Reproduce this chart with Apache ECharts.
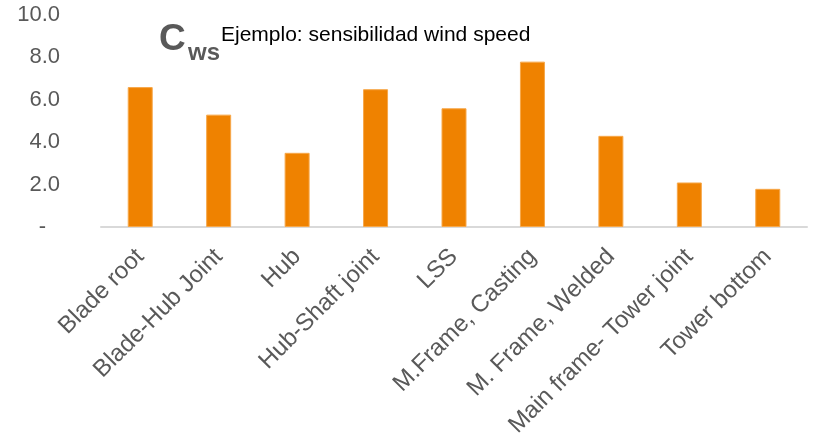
<!DOCTYPE html>
<html>
<head>
<meta charset="utf-8">
<script src="https://cdn.jsdelivr.net/npm/echarts@6/dist/echarts.min.js"></script>
<style>
  html, body { margin: 0; padding: 0; background: #fff; }
  #chart { width: 813px; height: 437px; }
</style>
</head>
<body>
<div id="chart"></div>
<script>
// Component categories and wind-speed sensitivity values
const categories = [
  'Blade root', 'Blade-Hub Joint', 'Hub', 'Hub-Shaft joint', 'LSS',
  'M.Frame, Casting', 'M. Frame, Welded', 'Main frame- Tower joint', 'Tower bottom'
];
const values = [6.6, 5.3, 3.5, 6.5, 5.6, 7.8, 4.3, 2.1, 1.8];
const yTicks = [0, 2, 4, 6, 8, 10];

const FONT = '"Liberation Sans", Arial, sans-serif';
const chart = echarts.init(document.getElementById('chart'));

chart.setOption({
  animation: false,
  title: [
    { text: 'C', left: 154, top: 16, textStyle: { fontFamily: FONT, fontSize: 37, fontWeight: 'bold', color: '#595959' } },
    { text: 'ws', left: 183, top: 36, textStyle: { fontFamily: FONT, fontSize: 24, fontWeight: 'bold', color: '#595959' } },
    { text: 'Ejemplo: sensibilidad wind speed', left: 216, top: 20, textStyle: { fontFamily: FONT, fontSize: 21, fontWeight: 'normal', color: '#000' } }
  ],
  grid: { left: 101, right: 6, top: 15, bottom: 210, containLabel: false, outerBoundsMode: 'none' },
  xAxis: {
    type: 'category',
    data: categories,
    axisLine: { lineStyle: { color: '#d9d9d9', width: 2 } },
    axisTick: { show: false },
    axisLabel: {
      rotate: 45, interval: 0, margin: 26,
      fontFamily: FONT, fontSize: 24, color: '#595959'
    }
  },
  yAxis: {
    type: 'value',
    min: yTicks[0], max: yTicks[yTicks.length - 1], interval: 2,
    axisLine: { show: false },
    axisTick: { show: false },
    splitLine: { show: false },
    axisLabel: {
      margin: 41,
      fontFamily: FONT, fontSize: 22, color: '#595959',
      formatter: v => v === 0 ? '{d|-}' : v.toFixed(1),
      rich: { d: { fontFamily: FONT, fontSize: 22, color: '#595959', padding: [0, 14, 0, 0] } }
    }
  },
  series: [{
    type: 'bar',
    data: values,
    barWidth: 25,
    itemStyle: { color: '#ef8200', borderColor: '#f7a84a', borderWidth: 1 }
  }]
});
</script>
</body>
</html>
